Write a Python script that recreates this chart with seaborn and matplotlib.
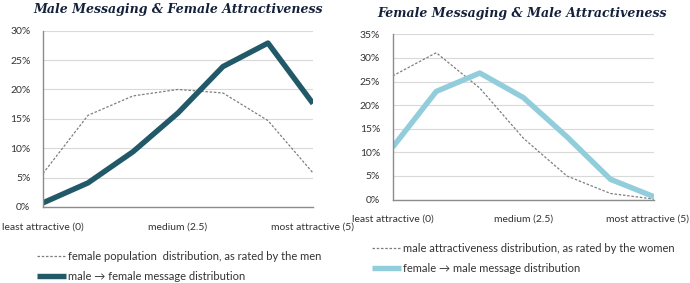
import matplotlib
matplotlib.use('Agg')
import matplotlib.pyplot as plt
import matplotlib.transforms as mtransforms
import seaborn as sns
import pandas as pd

# rating buckets (7 points from 0 to 5)
positions = [0, 1, 2, 3, 4, 5, 6]
tick_labels = ['least attractive (0)', '', '', 'medium (2.5)', '', '', 'most attractive (5)']

# left chart: men messaging women
female_population = [5.7, 15.6, 18.9, 20.0, 19.4, 14.7, 5.8]
male_to_female = [0.7, 4.1, 9.4, 16.0, 23.9, 27.9, 17.6]

# right chart: women messaging men
male_population = [26.2, 31.1, 23.6, 13.0, 5.0, 1.3, 0.1]
female_to_male = [11.1, 22.9, 26.8, 21.6, 13.3, 4.3, 0.6]

sns.set_style('white')
plt.rcParams['font.family'] = ['Lato', 'DejaVu Sans']

TEXT = '#333333'
AXIS = '#8c8c8c'
GRID = '#d9d9d9'
TITLE = '#14213a'


def draw_panel(ax, dotted, solid, solid_color, ymax, dotted_label, solid_label):
    df = pd.DataFrame({'pos': positions, 'dotted': [v / 100 for v in dotted],
                       'solid': [v / 100 for v in solid]})
    sns.lineplot(data=df, x='pos', y='dotted', ax=ax, color='#7f7f7f', lw=0.9,
                 label=dotted_label)
    ax.lines[-1].set_dashes((2.0, 1.4))
    sns.lineplot(data=df, x='pos', y='solid', ax=ax, color=solid_color, lw=3.9,
                 label=solid_label)
    ax.lines[-1].set_solid_capstyle('butt')
    ax.set_xlim(0, 6)
    ax.set_ylim(0, ymax / 100)
    yt = [v / 100 for v in range(0, ymax + 1, 5)]
    ax.set_yticks(yt)
    ax.set_yticklabels([f'{int(round(v * 100))}%' for v in yt])
    ax.set_xticks(positions)
    ax.set_xticklabels(tick_labels)
    ax.set_xlabel('')
    ax.set_ylabel('')
    ax.grid(axis='y', color=GRID, lw=0.8)
    ax.set_axisbelow(True)
    for s in ['top', 'right']:
        ax.spines[s].set_visible(False)
    for s in ['left', 'bottom']:
        ax.spines[s].set_color(AXIS)
        ax.spines[s].set_linewidth(1.0)
    ax.tick_params(axis='both', direction='out', length=3, width=0.8, color=AXIS,
                   labelsize=7.5, labelcolor=TEXT)
    ax.tick_params(axis='y', pad=6)
    ax.tick_params(axis='x', pad=8)
    ax.legend_.remove()


fig = plt.figure(figsize=(6.9, 2.83), dpi=100)
ax1 = fig.add_axes([0.0623, 0.2686, 0.3913, 0.6229])
ax2 = fig.add_axes([0.5691, 0.2947, 0.3788, 0.5841])

draw_panel(ax1, female_population, male_to_female, '#215968', 30,
           'female population  distribution, as rated by the men',
           'male \u2192 female message distribution')
draw_panel(ax2, male_population, female_to_male, '#92cddc', 35,
           'male attractiveness distribution, as rated by the women',
           'female \u2192 male message distribution')

# keep the last label of the right panel inside the canvas
last = ax2.get_xticklabels()[-1]
last.set_horizontalalignment('right')
last.set_transform(last.get_transform() + mtransforms.ScaledTranslation(35 / 100, 0, fig.dpi_scale_trans))

fig.text(178 / 690, 1 - 10 / 283, 'Male Messaging & Female Attractiveness',
         ha='center', va='center', fontsize=9, fontweight='bold', fontstyle='italic',
         family='DejaVu Serif', color=TITLE)
fig.text(522 / 690, 1 - 13 / 283, 'Female Messaging & Male Attractiveness',
         ha='center', va='center', fontsize=9, fontweight='bold', fontstyle='italic',
         family='DejaVu Serif', color=TITLE)

for ax, x, y in [(ax1, 37 / 690, 1 - 251 / 283), (ax2, 372 / 690, 1 - 243 / 283)]:
    h, l = ax.get_legend_handles_labels()
    fig.legend(h, l, loc='upper left', bbox_to_anchor=(x, y), frameon=False,
               fontsize=8, handlelength=2.6, handletextpad=0.2, borderpad=0,
               borderaxespad=0, labelspacing=0.8, labelcolor=TEXT)

fig.savefig('out.png', dpi=100)
